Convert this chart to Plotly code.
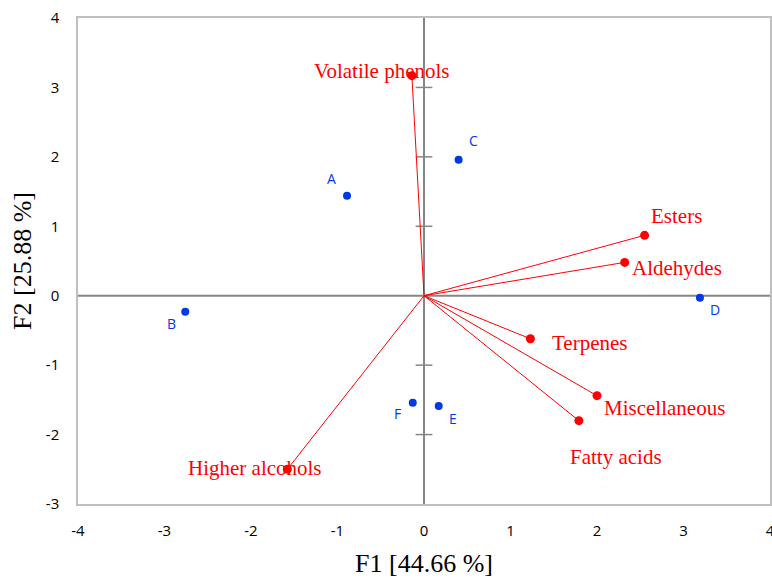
import plotly.graph_objects as go

# Observations (PCA scores)
obs_names = ["A", "B", "C", "D", "E", "F"]
obs_f1 = [-0.89, -2.76, 0.40, 3.19, 0.17, -0.13]
obs_f2 = [1.44, -0.23, 1.96, -0.03, -1.59, -1.54]
# label offsets in pixels (style only)
obs_xshift = [-16, -14, 15, 15, 14, -15]
obs_yshift = [17, -12, 19, -12, -12, -11]

# Variables (loadings)
var_names = ["Volatile phenols", "Esters", "Aldehydes", "Terpenes",
             "Miscellaneous", "Fatty acids", "Higher alcohols"]
var_f1 = [-0.14, 2.55, 2.32, 1.23, 2.00, 1.79, -1.58]
var_f2 = [3.17, 0.87, 0.48, -0.62, -1.44, -1.80, -2.50]
# label offsets in pixels (style only)
var_xshift = [-30, 32, 52, 60, 67, 37, -32]
var_yshift = [5, 19, -6, -4, -12, -36, 1]

x_ticks = [-4, -3, -2, -1, 0, 1, 2, 3, 4]
x_tick_labels = ["-4", "-3", "-2", "-1", "0", "1", "2", "3", "4"]
y_ticks = [-3, -2, -1, 0, 1, 2, 3, 4]
y_tick_labels = ["-3", "-2", "-1", "0", "1", "2", "3", "4"]
y_cross_ticks = [-2, -1, 1, 2, 3]

RED = "#FF0000"
BLUE = "#0039E6"
GRAY = "#868686"
SANS = "Open Sans, Liberation Sans, sans-serif"
SERIF = "Liberation Serif, Times New Roman, serif"

fig = go.Figure()

# zero lines
fig.add_trace(go.Scatter(x=[x_ticks[0], x_ticks[-1]], y=[0, 0], mode="lines",
                         line=dict(color=GRAY, width=2), hoverinfo="skip", showlegend=False))
fig.add_trace(go.Scatter(x=[0, 0], y=[y_ticks[0], y_ticks[-1]], mode="lines",
                         line=dict(color=GRAY, width=2), hoverinfo="skip", showlegend=False))
# cross ticks on vertical zero line
fig.add_trace(go.Scatter(x=[0] * len(y_cross_ticks), y=y_cross_ticks, mode="markers",
                         marker=dict(symbol="line-ew", size=12, line=dict(color=GRAY, width=1.5)),
                         hoverinfo="skip", showlegend=False))

# vectors from origin
lx, ly = [], []
for a, b in zip(var_f1, var_f2):
    lx += [0, a, None]
    ly += [0, b, None]
fig.add_trace(go.Scatter(x=lx, y=ly, mode="lines", line=dict(color=RED, width=1),
                         hoverinfo="skip", showlegend=False))
fig.add_trace(go.Scatter(x=var_f1, y=var_f2, mode="markers",
                         marker=dict(color=RED, size=9), showlegend=False))

# observations
fig.add_trace(go.Scatter(x=obs_f1, y=obs_f2, mode="markers",
                         marker=dict(color=BLUE, size=8), showlegend=False))

for name, a, b, dx, dy in zip(obs_names, obs_f1, obs_f2, obs_xshift, obs_yshift):
    fig.add_annotation(x=a, y=b, text=name, showarrow=False, xshift=dx, yshift=dy,
                       font=dict(family=SANS, size=14, color=BLUE))

for name, a, b, dx, dy in zip(var_names, var_f1, var_f2, var_xshift, var_yshift):
    fig.add_annotation(x=a, y=b, text=name, showarrow=False, xshift=dx, yshift=dy,
                       font=dict(family=SERIF, size=21, color=RED))

fig.update_xaxes(range=[x_ticks[0], x_ticks[-1]], tickvals=x_ticks, ticktext=x_tick_labels,
                 showgrid=False, zeroline=False, automargin=False, ticklabeloverflow="allow",
                 showline=True, linecolor="#BFBFBF", linewidth=1.5, mirror=True, ticks="",
                 ticklabelstandoff=12,
                 tickfont=dict(family=SANS, size=15, color="black"),
                 title=dict(text="F1 [44.66 %]", standoff=16,
                            font=dict(family=SERIF, size=26, color="black")))
fig.update_yaxes(range=[y_ticks[0], y_ticks[-1]], tickvals=y_ticks, ticktext=y_tick_labels,
                 showgrid=False, zeroline=False, automargin=False, ticklabeloverflow="allow",
                 showline=True, linecolor="#BFBFBF", linewidth=1.5, mirror=True, ticks="",
                 ticklabelstandoff=14,
                 tickfont=dict(family=SANS, size=15, color="black"),
                 title=dict(text="F2 [25.88 %]", standoff=7,
                            font=dict(family=SERIF, size=26, color="black")))

fig.update_layout(width=772, height=578, margin=dict(l=78, r=2, t=18, b=74),
                  plot_bgcolor="white", paper_bgcolor="white")

fig.write_html("out.html", config={"displayModeBar": False},
               post_script="document.body.style.margin='0';document.body.style.overflow='hidden';")
